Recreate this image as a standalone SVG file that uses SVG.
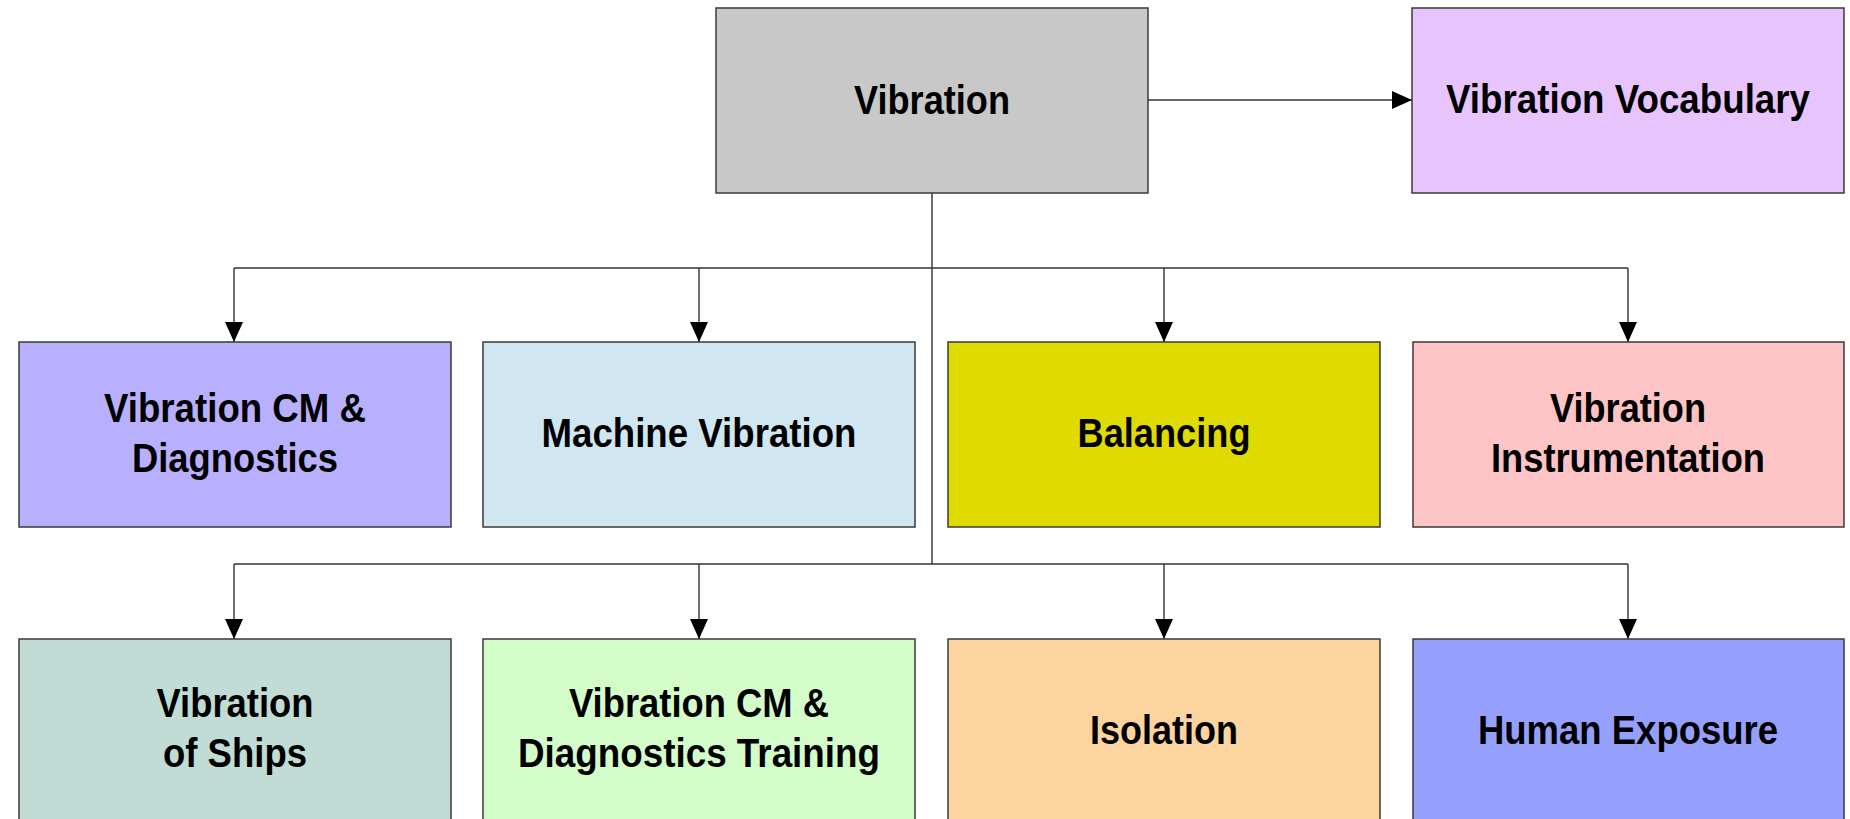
<svg xmlns="http://www.w3.org/2000/svg" width="1850" height="819" viewBox="0 0 1850 819">
<style>
.box{stroke:#3a3a3a;stroke-width:1.5}
.lbl{font-family:"Liberation Sans",Arial,sans-serif;font-weight:bold;font-size:41px;fill:#000;text-anchor:middle}
.conn{fill:none;stroke:#333;stroke-width:1.4}
</style>
<defs>
<marker id="arr" markerUnits="userSpaceOnUse" markerWidth="20" markerHeight="18" refX="20" refY="9" orient="auto">
<path d="M0,0 L20,9 L0,18 z" fill="#000"/>
</marker>
</defs>
<rect width="1850" height="819" fill="#fff"/>
<g id="connectors">
<path class="conn" d="M1148,100 H1412" marker-end="url(#arr)"/>
<path class="conn" d="M932,193 V564"/>
<path class="conn" d="M234,268 H1628"/>
<path class="conn" d="M234,268 V342" marker-end="url(#arr)"/>
<path class="conn" d="M699,268 V342" marker-end="url(#arr)"/>
<path class="conn" d="M1164,268 V342" marker-end="url(#arr)"/>
<path class="conn" d="M1628,268 V342" marker-end="url(#arr)"/>
<path class="conn" d="M234,564 H1628"/>
<path class="conn" d="M234,564 V639" marker-end="url(#arr)"/>
<path class="conn" d="M699,564 V639" marker-end="url(#arr)"/>
<path class="conn" d="M1164,564 V639" marker-end="url(#arr)"/>
<path class="conn" d="M1628,564 V639" marker-end="url(#arr)"/>
</g>
<g id="vibration">
<rect class="box" x="716" y="8" width="432" height="185" fill="#c8c8c8"/>
<text class="lbl" x="932" y="114" textLength="156" lengthAdjust="spacingAndGlyphs">Vibration</text>
</g>
<g id="vocabulary">
<rect class="box" x="1412" y="8" width="432" height="185" fill="#e8c4fc"/>
<text class="lbl" x="1628" y="113" textLength="364" lengthAdjust="spacingAndGlyphs">Vibration Vocabulary</text>
</g>
<g id="cm-diagnostics">
<rect class="box" x="19" y="342" width="432" height="185" fill="#b8b0fc"/>
<text class="lbl" x="235" y="422" textLength="262" lengthAdjust="spacingAndGlyphs">Vibration CM &amp;</text>
<text class="lbl" x="235" y="472" textLength="206" lengthAdjust="spacingAndGlyphs">Diagnostics</text>
</g>
<g id="machine-vibration">
<rect class="box" x="483" y="342" width="432" height="185" fill="#d0e6f0"/>
<text class="lbl" x="699" y="447" textLength="315" lengthAdjust="spacingAndGlyphs">Machine Vibration</text>
</g>
<g id="balancing">
<rect class="box" x="948" y="342" width="432" height="185" fill="#dfda00"/>
<text class="lbl" x="1164" y="447" textLength="173" lengthAdjust="spacingAndGlyphs">Balancing</text>
</g>
<g id="instrumentation">
<rect class="box" x="1413" y="342" width="431" height="185" fill="#fcc4c4"/>
<text class="lbl" x="1628" y="422" textLength="156" lengthAdjust="spacingAndGlyphs">Vibration</text>
<text class="lbl" x="1628" y="472" textLength="274" lengthAdjust="spacingAndGlyphs">Instrumentation</text>
</g>
<g id="ships">
<rect class="box" x="19" y="639" width="432" height="185" fill="#c0dcd4"/>
<text class="lbl" x="235" y="717" textLength="157" lengthAdjust="spacingAndGlyphs">Vibration</text>
<text class="lbl" x="235" y="767" textLength="144" lengthAdjust="spacingAndGlyphs">of Ships</text>
</g>
<g id="cm-training">
<rect class="box" x="483" y="639" width="432" height="185" fill="#d4fcc8"/>
<text class="lbl" x="699" y="717" textLength="260" lengthAdjust="spacingAndGlyphs">Vibration CM &amp;</text>
<text class="lbl" x="699" y="767" textLength="362" lengthAdjust="spacingAndGlyphs">Diagnostics Training</text>
</g>
<g id="isolation">
<rect class="box" x="948" y="639" width="432" height="185" fill="#fcd4a0"/>
<text class="lbl" x="1164" y="744" textLength="148" lengthAdjust="spacingAndGlyphs">Isolation</text>
</g>
<g id="human-exposure">
<rect class="box" x="1413" y="639" width="431" height="185" fill="#94a0fc"/>
<text class="lbl" x="1628" y="744" textLength="300" lengthAdjust="spacingAndGlyphs">Human Exposure</text>
</g>
</svg>
